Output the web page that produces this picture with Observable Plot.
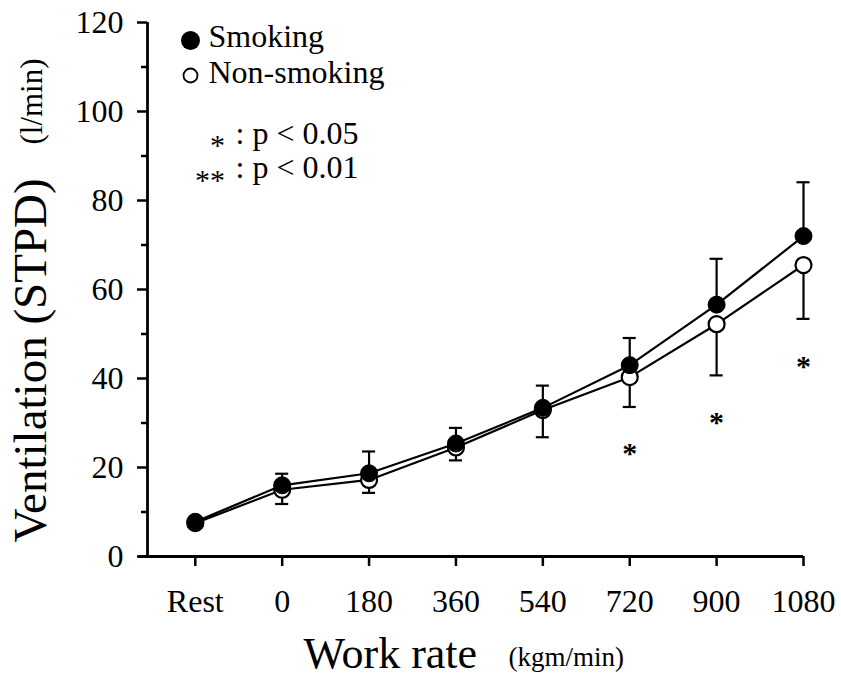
<!DOCTYPE html>
<html><head><meta charset="utf-8">
<script src="https://cdn.jsdelivr.net/npm/d3@7"></script>
<script src="https://cdn.jsdelivr.net/npm/@observablehq/plot@0.6"></script>
<style>body{margin:0;background:#fff}</style>
</head><body><div id="chart"></div>
<script>
const workRates = ["Rest", "0", "180", "360", "540", "720", "900", "1080"];
const smokingMean = [7.8, 16.0, 18.7, 25.4, 33.4, 43.0, 56.6, 72.0];
const smokingUpper = [null, 18.6, 23.6, 28.9, 38.4, 49.1, 66.9, 84.1];
const nonSmokingMean = [7.5, 15.0, 17.2, 24.5, 32.9, 40.3, 52.2, 65.5];
const nonSmokingLower = [null, 11.8, 14.3, 21.6, 26.8, 33.6, 40.7, 53.4];
const sigRates = ["720", "900", "1080"];
const sigMarkY = [24.3, 31.3, 43.8];
const yTicks = [0, 20, 40, 60, 80, 100, 120];
const yMinorTicks = [10, 30, 50, 70, 90, 110];

const rows = workRates.map((w, i) => ({
  i, label: w,
  sm: smokingMean[i], smU: smokingUpper[i],
  ns: nonSmokingMean[i], nsL: nonSmokingLower[i]
}));
const barRows = rows.filter(d => d.smU != null);
const sigRows = sigRates.map((w, k) => ({i: workRates.indexOf(w), y: sigMarkY[k]}));
const capHalf = 0.075;
const serif = "'Liberation Serif','Times New Roman',Times,serif";
const sw = 2.2;
const mid = {lineAnchor: "middle"};

const chart = Plot.plot({
  width: 841, height: 677,
  marginLeft: 147, marginRight: 38, marginTop: 22, marginBottom: 121,
  style: {fontFamily: serif, color: "#000", background: "#fff", overflow: "visible"},
  x: {type: "linear", domain: [-0.55, 7]},
  y: {domain: [0, 120]},
  marks: [
    Plot.axisY({ticks: yTicks, tickSize: 10, tickPadding: 14, fontSize: 32, strokeWidth: 2.5, label: null}),
    Plot.axisY({ticks: yMinorTicks, tickSize: 6, tickFormat: () => "", strokeWidth: 2.5, label: null}),
    Plot.axisX({ticks: d3.range(workRates.length), tickSize: 10, tickPadding: 23, fontSize: 32,
      tickFormat: i => workRates[i], strokeWidth: 2.5, label: null}),
    Plot.ruleX([-0.55], {y1: 0, y2: 120, strokeWidth: 2.8}),
    Plot.ruleY([0], {x1: -0.65, x2: 7, strokeWidth: 2.8}),
    // error bars
    Plot.ruleX(barRows, {x: "i", y1: "sm", y2: "smU", strokeWidth: sw}),
    Plot.ruleY(barRows, {y: "smU", x1: d => d.i - capHalf, x2: d => d.i + capHalf, strokeWidth: sw}),
    Plot.ruleX(barRows, {x: "i", y1: "ns", y2: "nsL", strokeWidth: sw}),
    Plot.ruleY(barRows, {y: "nsL", x1: d => d.i - capHalf, x2: d => d.i + capHalf, strokeWidth: sw}),
    // lines
    Plot.line(rows, {x: "i", y: "sm", stroke: "#000", strokeWidth: sw}),
    Plot.line(rows, {x: "i", y: "ns", stroke: "#000", strokeWidth: sw}),
    // markers
    Plot.dot(rows, {x: "i", y: "ns", r: 8, fill: "#fff", stroke: "#000", strokeWidth: 2.2}),
    Plot.dot(rows, {x: "i", y: "sm", r: 8.5, fill: "#000", stroke: "#000", strokeWidth: 1}),
    // significance marks
    Plot.text(sigRows, {x: "i", y: "y", text: () => "*", fontSize: 30, fontWeight: "bold", dy: 5, ...mid}),
    // legend
    Plot.dot([0], {x: null, y: null, frameAnchor: "top-left", dx: 43, dy: 18, r: 9.5, fill: "#000"}),
    Plot.dot([0], {x: null, y: null, frameAnchor: "top-left", dx: 43, dy: 53, r: 7, fill: "#fff", stroke: "#000", strokeWidth: 1.8}),
    Plot.text(["Smoking"], {frameAnchor: "top-left", dx: 61, dy: 14.4, textAnchor: "start", fontSize: 32, ...mid}),
    Plot.text(["Non-smoking"], {frameAnchor: "top-left", dx: 61, dy: 50, textAnchor: "start", fontSize: 32, ...mid}),
    Plot.text(["*"], {frameAnchor: "top-left", dx: 70, dy: 123, textAnchor: "middle", fontSize: 30, ...mid}),
    Plot.text(["**"], {frameAnchor: "top-left", dx: 62.5, dy: 158, textAnchor: "middle", fontSize: 30, ...mid}),
    Plot.text([": p < 0.05"], {frameAnchor: "top-left", dx: 88, dy: 111.4, textAnchor: "start", fontSize: 32, ...mid}),
    Plot.text([": p < 0.01"], {frameAnchor: "top-left", dx: 88, dy: 145.4, textAnchor: "start", fontSize: 32, ...mid}),
    // axis titles
    Plot.text(["Work rate"], {frameAnchor: "bottom-left", dx: 156, dy: 97, textAnchor: "start", fontSize: 44, ...mid}),
    Plot.text(["(kgm/min)"], {frameAnchor: "bottom-left", dx: 361, dy: 100.7, textAnchor: "start", fontSize: 27, ...mid}),
    Plot.text(["Ventilation (STPD)"], {frameAnchor: "top-left", dx: -117, dy: 338, rotate: -90, textAnchor: "middle", fontSize: 47, ...mid}),
    Plot.text(["(l/min)"], {frameAnchor: "top-left", dx: -115, dy: 79, rotate: -90, textAnchor: "middle", fontSize: 31, ...mid})
  ]
});
document.getElementById("chart").appendChild(chart);
</script>
</body></html>
